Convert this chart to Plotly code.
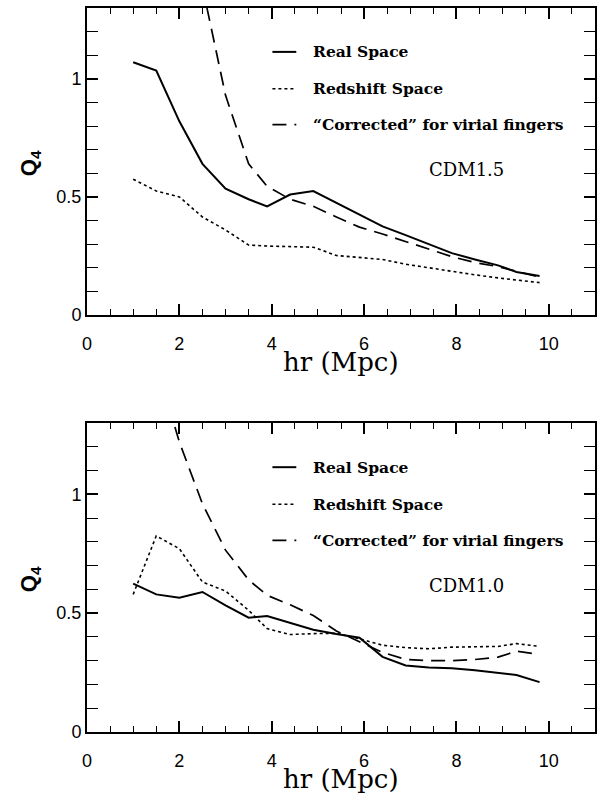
import plotly.graph_objects as go

# separation bins (h^-1 Mpc)
r_bins = [1.0, 1.5, 2.0, 2.5, 3.0, 3.5, 3.9, 4.4, 4.9, 5.4, 5.9, 6.4, 6.9, 7.4, 7.9, 8.4, 8.9, 9.3, 9.8]

# CDM1.5
q4_real_15 = [1.07, 1.035, 0.82, 0.64, 0.535, 0.49, 0.46, 0.51, 0.525, 0.475, 0.425, 0.375,
              0.338, 0.30, 0.262, 0.235, 0.21, 0.182, 0.165]
q4_zspace_15 = [0.575, 0.525, 0.50, 0.415, 0.36, 0.296, 0.292, 0.288, 0.287, 0.252, 0.242, 0.235,
                0.215, 0.20, 0.183, 0.17, 0.157, 0.148, 0.137]
q4_corr_15 = [1.85, 1.39, 0.93, 0.64, 0.545, 0.49, 0.46, 0.415, 0.372, 0.343, 0.31, 0.28,
              0.247, 0.222, 0.205, 0.185, 0.16]   # from r = 2.0

# CDM1.0
q4_real_10 = [0.624, 0.579, 0.565, 0.589, 0.533, 0.481, 0.488, 0.458, 0.43, 0.412, 0.397, 0.316,
              0.28, 0.271, 0.268, 0.26, 0.25, 0.24, 0.21]
q4_zspace_10 = [0.579, 0.825, 0.771, 0.631, 0.593, 0.512, 0.435, 0.41, 0.414, 0.415, 0.392, 0.365,
                0.355, 0.35, 0.357, 0.36, 0.36, 0.372, 0.36]
q4_corr_10 = [1.55, 1.22, 0.96, 0.765, 0.64, 0.575, 0.535, 0.49, 0.425, 0.38, 0.335, 0.305,
              0.30, 0.30, 0.305, 0.315, 0.34, 0.326]   # from r = 1.5

legend_labels = ["Real Space", "Redshift Space", "\u201cCorrected\u201d for virial fingers"]
model_labels = ["CDM1.5", "CDM1.0"]
x_ticks = [0, 2, 4, 6, 8, 10]
y_ticks = [0, 0.5, 1]
y_ticktext = ["0", "0.5", "1"]

styles = [dict(color="black", width=2),
          dict(color="black", width=1.6, dash="3px,3px"),
          dict(color="black", width=1.7, dash="14px,8px")]

fig = go.Figure()

panels = [
    ("x", "y", "x3", [(r_bins, q4_real_15), (r_bins, q4_zspace_15), (r_bins[2:], q4_corr_15)]),
    ("x2", "y2", "x4", [(r_bins, q4_real_10), (r_bins, q4_zspace_10), (r_bins[1:], q4_corr_10)]),
]
for xa, ya, xl, series in panels:
    for (xs, ys), st, name in zip(series, styles, legend_labels):
        fig.add_trace(go.Scatter(x=xs, y=ys, mode="lines", line=st, name=name,
                                 xaxis=xa, yaxis=ya, showlegend=False))
    # empty trace that keeps the labelling axis active
    fig.add_trace(go.Scatter(x=x_ticks, y=[None] * len(x_ticks), mode="lines",
                             xaxis=xl, yaxis=ya, showlegend=False, hoverinfo="skip"))

tick_font = dict(family="Liberation Sans, Arial", size=18, color="black")
axis_common = dict(showline=True, linewidth=2, linecolor="black", mirror="allticks",
                   showgrid=False, zeroline=False, ticks="inside", tickwidth=1.5,
                   tickcolor="black", ticklen=11, tickfont=tick_font)

# framed x axes with inside major/minor ticks (labels come from the companion axes)
xax = dict(axis_common, range=[0, 11], tickvals=x_ticks, showticklabels=False,
           minor=dict(dtick=0.5, tick0=0, ticks="inside", ticklen=6, tickwidth=1.2,
                      tickcolor="black"))
# companion x axes carrying the tick labels, pushed down by a transparent outside tick
xlab = dict(range=[0, 11], tickvals=x_ticks, ticks="outside", ticklen=12,
            tickcolor="rgba(0,0,0,0)", showline=False, showgrid=False, zeroline=False,
            tickfont=tick_font)
yax = dict(axis_common, range=[0, 1.3], tickvals=y_ticks, ticktext=y_ticktext,
           minor=dict(dtick=0.1, tick0=0, ticks="inside", ticklen=6, tickwidth=1.2,
                      tickcolor="black"))

fig.update_layout(
    width=600, height=794,
    margin=dict(l=87, r=3, t=8, b=62),
    paper_bgcolor="white", plot_bgcolor="white",
    xaxis=dict(xax, domain=[0, 1], anchor="y"),
    yaxis=dict(yax, domain=[0.576, 1], anchor="x"),
    xaxis2=dict(xax, domain=[0, 1], anchor="y2"),
    yaxis2=dict(yax, domain=[0, 0.4268], anchor="x2"),
    xaxis3=dict(xlab, overlaying="x", anchor="y", side="bottom"),
    xaxis4=dict(xlab, overlaying="x2", anchor="y2", side="bottom"),
    showlegend=False,
)

serif = "DejaVu Serif"
legend_y = [0.857, 0.737, 0.62]
model_y = 0.474
for i, (xa, ya) in enumerate([("x", "y"), ("x2", "y2")]):
    xd, yd = xa + " domain", ya + " domain"
    for st, label, ly in zip(styles, legend_labels, legend_y):
        fig.add_shape(type="line", xref=xd, yref=yd, x0=0.365, x1=0.412, y0=ly, y1=ly,
                      line=st)
        fig.add_annotation(xref=xd, yref=yd, x=0.441, y=ly, text="<b>%s</b>" % label,
                           showarrow=False, xanchor="left", yanchor="middle",
                           font=dict(family=serif, size=15.5, color="black"))
    fig.add_annotation(xref=xd, yref=yd, x=0.748, y=model_y, text=model_labels[i],
                       showarrow=False, xanchor="center", yanchor="middle",
                       font=dict(family=serif, size=18, color="black"))
    fig.add_annotation(xref=xd, yref=yd, x=0.5, y=-0.152, text="hr (Mpc)",
                       showarrow=False, xanchor="center", yanchor="middle",
                       font=dict(family=serif, size=26, color="black"))
    fig.add_annotation(xref="paper", yref=yd, x=-0.112, y=0.495, text="<b>Q<sub>4</sub></b>",
                       showarrow=False, textangle=-90, xanchor="center", yanchor="middle",
                       font=dict(family="Liberation Sans, Arial", size=22, color="black"))

fig.write_html("out.html")
